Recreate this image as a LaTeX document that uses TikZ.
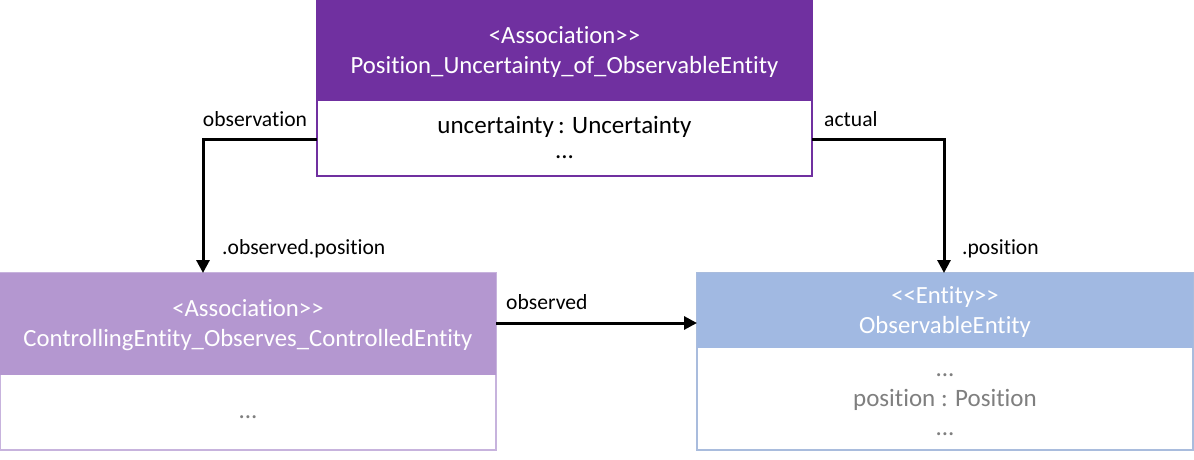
\documentclass[tikz,border=0pt]{standalone}
\usepackage{fontspec}
\setmainfont{Carlito}[RawFeature=-liga]
\usetikzlibrary{arrows.meta}
\definecolor{topHead}{HTML}{7030A0}
\definecolor{leftHead}{HTML}{B497D0}
\definecolor{leftBorder}{HTML}{C7B3DD}
\definecolor{rightHead}{HTML}{A1B9E2}
\definecolor{rightBorder}{HTML}{A9BCDD}
\definecolor{grayText}{HTML}{7F7F7F}
\tikzset{
  box/.style={draw, line width=1.6pt, inner sep=0pt, outer sep=0pt, anchor=north west, fill=white},
  title/.style={text=white, font=\fontsize{24.7}{30}\selectfont, align=center, inner sep=0pt},
  attr/.style={font=\fontsize{25}{30}\selectfont, align=center, inner sep=0pt},
  lbl/.style={font=\fontsize{21.6}{26}\selectfont, inner sep=0pt},
  conn/.style={line width=3pt, -{Triangle[length=13pt,width=13pt]}},
}
\begin{document}
\begin{tikzpicture}[x=1pt,y=-1pt]
\useasboundingbox (0,0) rectangle (1194,460);
% top box
\node[box, draw=topHead, minimum width=495, minimum height=178] (top) at (317,-2) {};
\fill[topHead] (317,-2) rectangle (812,101);
\node[title] (topT) at (564.5,52) {<Association>{}>\\Position\_Uncertainty\_of\_ObservableEntity};
\node[attr] (topA1) at (564.5,127) {uncertainty\,: Uncertainty};
\node[attr] (topA2) at (564.5,157) {...};
% left box
\node[box, draw=leftBorder, minimum width=496, minimum height=177] (left) at (0,273) {};
\fill[leftHead] (0,273) rectangle (496,375);
\node[title] (leftT) at (248,325) {<Association>{}>\\ControllingEntity\_Observes\_ControlledEntity};
\node[attr, text=grayText] (leftA) at (248,417) {...};
% right box
\node[box, draw=rightBorder, minimum width=496, minimum height=177] (right) at (697,273) {};
\fill[rightHead] (697,273) rectangle (1193,348);
\node[title] (rightT) at (945,311.5) {<{}<Entity>{}>\\ObservableEntity};
\node[attr, text=grayText] (rightA1) at (945,375) {...};
\node[attr, text=grayText] (rightA2) at (945,400) {position : Position};
\node[attr, text=grayText] (rightA3) at (945,434) {...};
% connector anchor points
\coordinate (obsFrom) at (317,139);
\coordinate (obsTo) at (203,273);
\coordinate (actFrom) at (812,139);
\coordinate (actTo) at (944,273);
\coordinate (seeFrom) at (496,323);
\coordinate (seeTo) at (697,323);
\draw[conn] (obsFrom) -| (obsTo);
\draw[conn] (actFrom) -| (actTo);
\draw[conn] (seeFrom) -- (seeTo);
% labels
\node[lbl, anchor=base] (lObs) at (255,126) {observation};
\node[lbl, anchor=base west] (lAct) at (824,126) {actual};
\node[lbl, anchor=base west] (lObsPos) at (222,254) {.observed.position};
\node[lbl, anchor=base west] (lPos) at (962,254) {.position};
\node[lbl, anchor=base west] (lSee) at (506,309) {observed};
\end{tikzpicture}
\end{document}
